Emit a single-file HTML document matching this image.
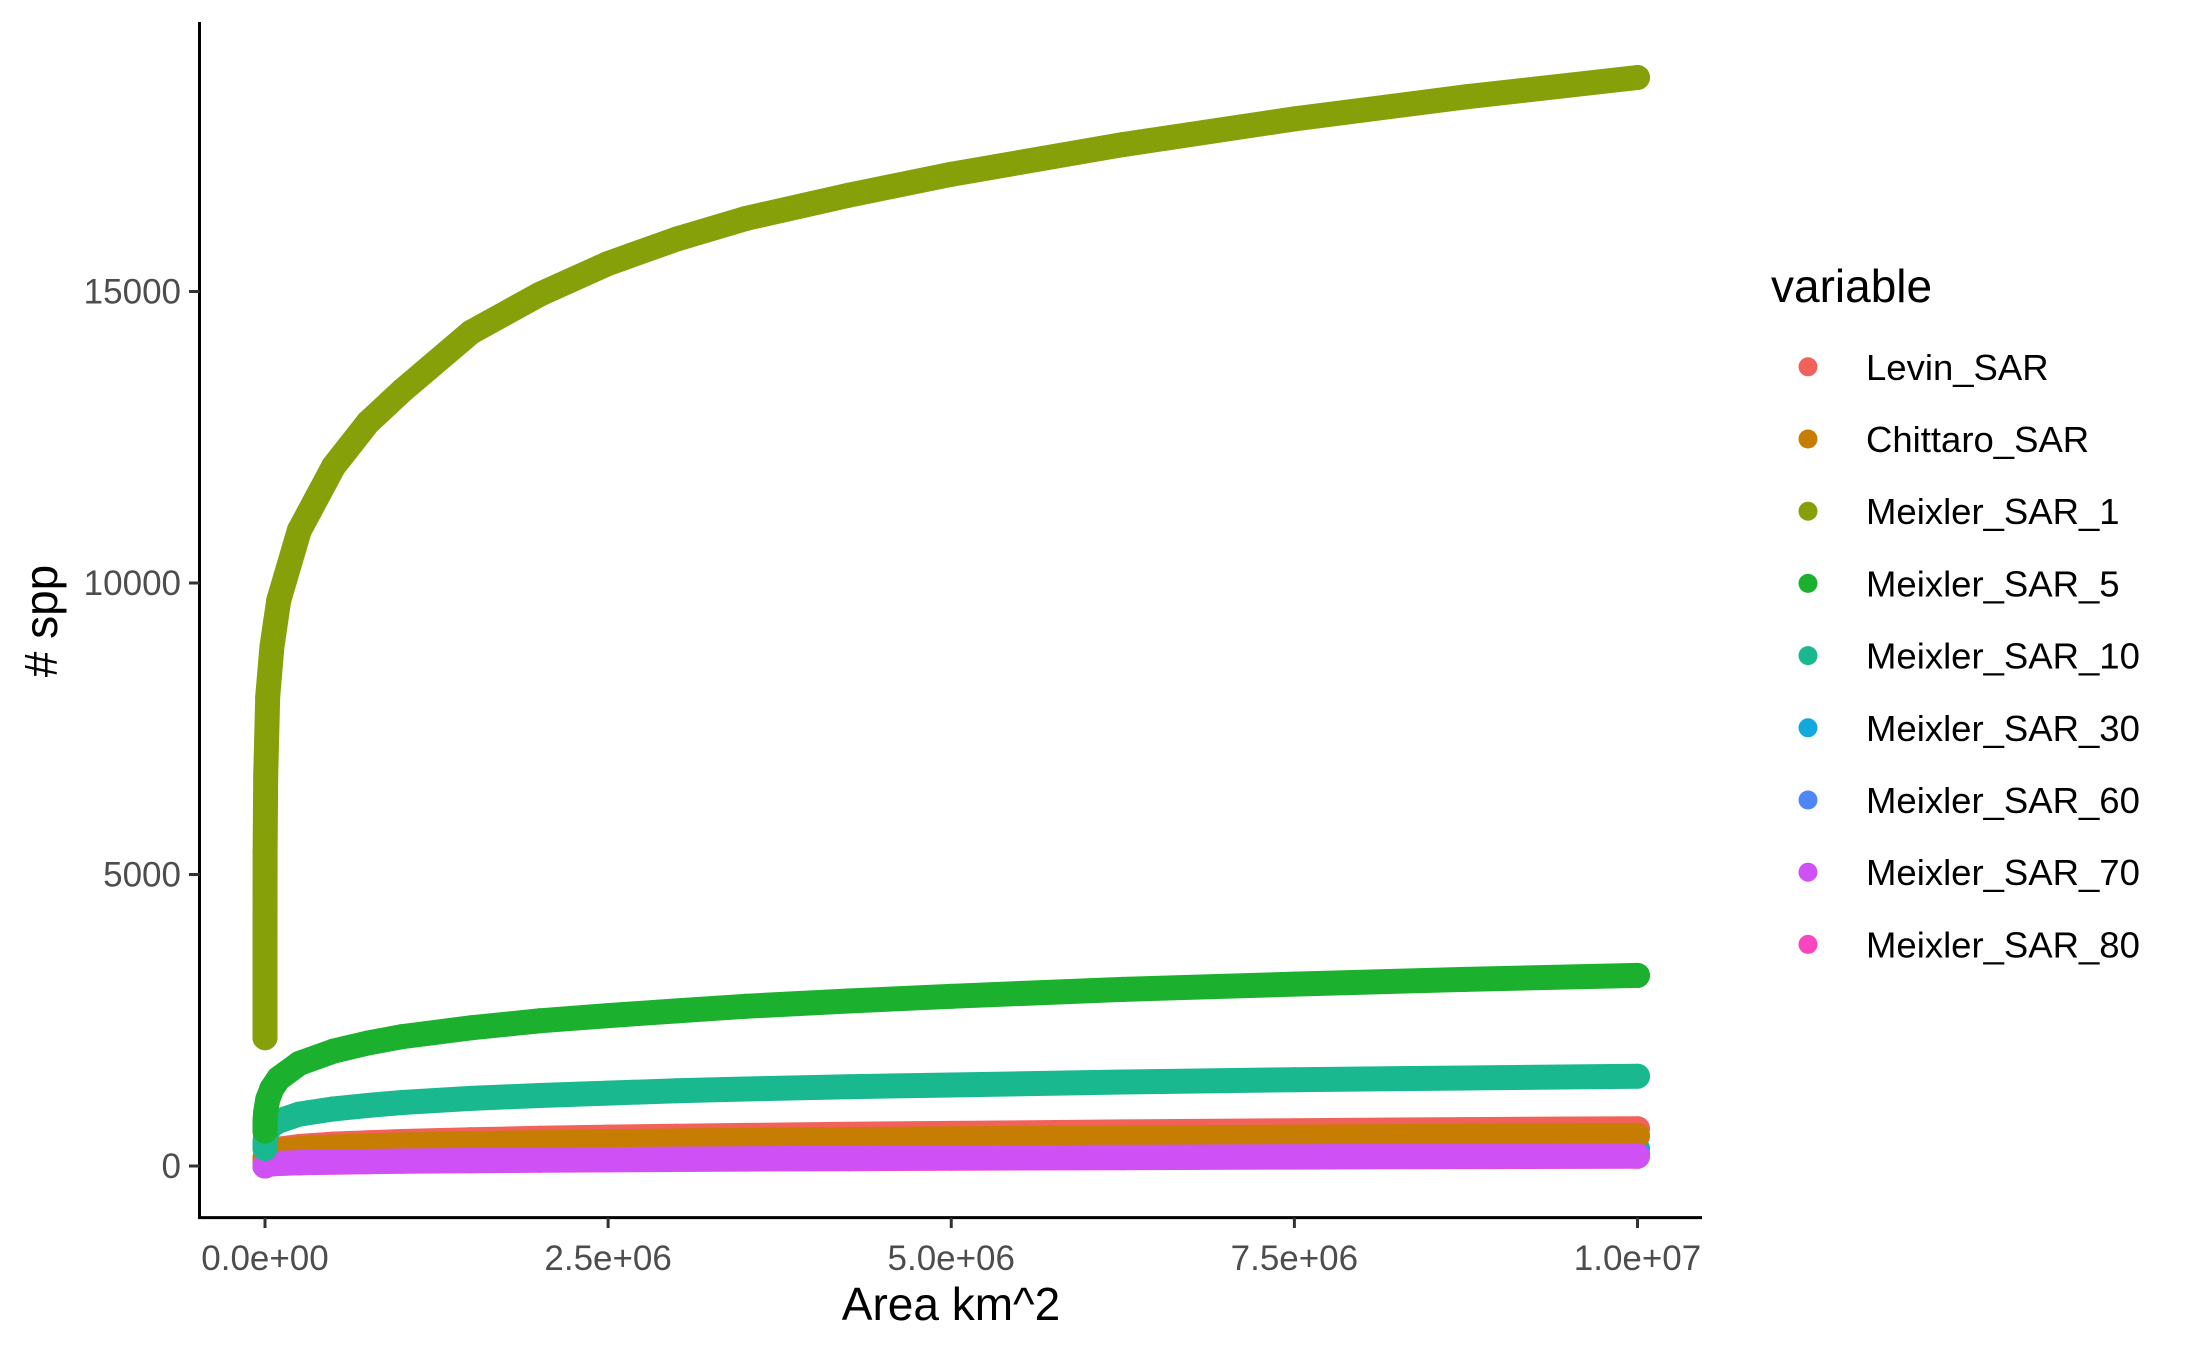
<!DOCTYPE html>
<html><head><meta charset="utf-8"><style>
html,body{margin:0;padding:0;background:#fff;}
svg{display:block;font-family:"Liberation Sans",Arial,sans-serif;}
</style></head><body>
<svg id="chart" width="2187" height="1351" viewBox="0 0 2187 1351">
<g id="plot"></g>
<g id="axes"></g>
<g id="legend"></g>
</svg>
<script>
const areas = [0, 0.0001e6, 0.001e6, 0.005e6, 0.02e6, 0.05e6, 0.1e6, 0.25e6, 0.5e6, 0.75e6, 1e6, 1.5e6, 2e6, 2.5e6, 3e6, 3.5e6, 4.25e6, 5e6, 6.25e6, 7.5e6, 8.75e6, 10e6];
const seriesNames = ["Levin_SAR","Chittaro_SAR","Meixler_SAR_1","Meixler_SAR_5","Meixler_SAR_10","Meixler_SAR_30","Meixler_SAR_60","Meixler_SAR_70","Meixler_SAR_80"];
const seriesColors = ["#F0625A","#C77C02","#86A00A","#1BB02D","#19B88E","#14A9DC","#4F86F7","#CF51F5","#F945C0"];
const levin = [100,120,150,185,225,260,290,335,375,400,420,450,475,495,510,525,545,560,585,605,625,640];
const chittaro = [60,110,140,170,205,235,260,295,325,345,360,385,400,415,428,440,452,465,480,495,510,520];
const meixler1 = [2200,3960,5390,6690,8050,8900,9700,10900,12000,12750,13300,14300,14950,15480,15900,16250,16650,17010,17520,17960,18340,18670];
const meixler5 = [600,700,800,930,1140,1330,1500,1760,1970,2110,2220,2370,2490,2580,2660,2740,2830,2910,3030,3120,3200,3270];
const meixler10 = [300,380,430,500,610,700,770,890,980,1040,1090,1160,1210,1250,1290,1320,1360,1390,1440,1480,1510,1540];
const meixler30 = [0,10,20,34,50,64,76,98,118,132,144,160,174,186,199,212,225,238,255,272,288,298];
const meixler60 = [0,7,14,23,34,44,52,66,80,90,98,110,118,126,135,144,152,160,172,184,195,200];
const meixler70 = [0,6,12,20,30,38,45,58,70,78,85,95,103,110,118,125,133,140,150,160,170,175];
const meixler80 = [0,5,11,19,28,36,43,55,66,74,80,90,98,105,112,118,126,133,142,152,161,166];
const seriesValues = [levin, chittaro, meixler1, meixler5, meixler10, meixler30, meixler60, meixler70, meixler80];
const drawOrder = [8,6,5,0,1,7,4,3,2];
const xTicks = [0, 2.5e6, 5e6, 7.5e6, 10e6];
const xTickLabels = ["0.0e+00","2.5e+06","5.0e+06","7.5e+06","1.0e+07"];
const yTicks = [0, 5000, 10000, 15000];
const yTickLabels = ["0","5000","10000","15000"];

const NS = "http://www.w3.org/2000/svg";
const X0 = 265, XPER = 1372.5/1e7;
const Y0 = 1166, YPER = 291.5/5000;
function sx(v){return X0 + v*XPER;}
function sy(v){return Y0 - v*YPER;}
function mk(tag, attrs, parent){const e=document.createElementNS(NS,tag);for(const k in attrs)e.setAttribute(k,attrs[k]);parent.appendChild(e);return e;}

const plot = document.getElementById('plot');
drawOrder.forEach(function(si){
  const vals = seriesValues[si];
  let d = "";
  areas.forEach(function(a,i){d += (i?"L":"M") + sx(a).toFixed(1) + " " + sy(vals[i]).toFixed(1);});
  const g = mk('g',{},plot);
  
  
  const p = mk('path',{d:d,fill:'none',stroke:seriesColors[si],'stroke-width':25,'stroke-linecap':'round','stroke-linejoin':'round'},g);
  
  
  areas.forEach(function(a,i){
    const c = mk('circle',{cx:sx(a).toFixed(1),cy:sy(vals[i]).toFixed(1),r:12.5,fill:seriesColors[si]},g);
    
    
  });
});

const axes = document.getElementById('axes');
const yl = mk('line',{x1:199.5,y1:22,x2:199.5,y2:1219},axes);
yl.setAttribute('stroke','#000'); yl.setAttribute('stroke-width','3');


const xl = mk('line',{x1:198,y1:1217.6,x2:1702,y2:1217.6},axes);
xl.setAttribute('stroke','#000'); xl.setAttribute('stroke-width','3');


xTicks.forEach(function(v,i){
  const t = mk('line',{x1:sx(v),y1:1217.6,x2:sx(v),y2:1228,stroke:'#333','stroke-width':3},axes);
  
  
  const tx = mk('text',{x:sx(v),y:1270,'text-anchor':'middle','font-size':35,fill:'#4d4d4d'},axes);
  tx.textContent = xTickLabels[i];
  
  
});
yTicks.forEach(function(v,i){
  const t = mk('line',{x1:189,y1:sy(v),x2:199.5,y2:sy(v),stroke:'#333','stroke-width':3},axes);
  
  
  const tx = mk('text',{x:181,y:sy(v)+12,'text-anchor':'end','font-size':35,fill:'#4d4d4d'},axes);
  tx.textContent = yTickLabels[i];
  
  
});
const xt = mk('text',{x:951,y:1320,'text-anchor':'middle','font-size':46,fill:'#000'},axes);
xt.textContent = 'Area km^2';


const yt = mk('text',{x:0,y:0,'text-anchor':'middle','font-size':46,fill:'#000',transform:'translate(57,621) rotate(-90)'},axes);
yt.textContent = '# spp';



const legend = document.getElementById('legend');
const lt = mk('text',{x:1771,y:302,'font-size':46,fill:'#000'},legend);
lt.textContent = 'variable';


seriesNames.forEach(function(n,i){
  const y = 366.8 + i*72.2;
  const g = mk('g',{},legend);
  
  
  const c = mk('circle',{cx:1808,cy:y,r:9.5,fill:seriesColors[i]},g);
  
  
  const t = mk('text',{x:1866,y:y+13,'font-size':36.5,fill:'#000'},g);
  t.textContent = n;
  
  
});
</script>
</body></html>
